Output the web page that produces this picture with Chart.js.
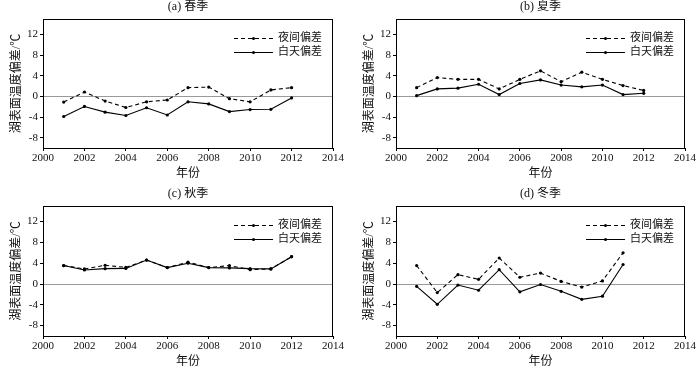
<!DOCTYPE html>
<html>
<head>
<meta charset="utf-8">
<script src="https://cdn.jsdelivr.net/npm/chart.js@4/dist/chart.umd.min.js"></script>
<style>
  html, body { margin: 0; padding: 0; background: #fff; }
  #wrap { position: relative; width: 700px; height: 372px; overflow: hidden; }
  #wrap canvas { position: absolute; }
</style>
</head>
<body>
<div id="wrap">
  <canvas id="c-spring" width="350" height="186" style="left:0;top:0"></canvas>
  <canvas id="c-summer" width="347" height="186" style="left:353px;top:0"></canvas>
  <canvas id="c-autumn" width="350" height="187" style="left:0;top:187px"></canvas>
  <canvas id="c-winter" width="347" height="187" style="left:353px;top:187px"></canvas>
</div>
<script>
/* ═══ data ═══ */
var YEARS        = [2001, 2002, 2003, 2004, 2005, 2006, 2007, 2008, 2009, 2010, 2011, 2012];
var YEARS_WINTER = [2001, 2002, 2003, 2004, 2005, 2006, 2007, 2008, 2009, 2010, 2011];

var springNight = [-1.1, 0.85, -0.9, -2.15, -1.05, -0.7, 1.7, 1.8, -0.45, -1.05, 1.25, 1.7];
var springDay   = [-3.9, -1.95, -3.05, -3.7, -2.2, -3.6, -1.05, -1.45, -2.95, -2.55, -2.5, -0.3];
var summerNight = [1.7, 3.65, 3.3, 3.3, 1.45, 3.3, 4.95, 2.85, 4.7, 3.3, 2.1, 1.15];
var summerDay   = [0.15, 1.45, 1.6, 2.35, 0.35, 2.5, 3.2, 2.2, 1.85, 2.2, 0.35, 0.6];
var autumnNight = [3.55, 2.9, 3.6, 3.2, 4.6, 3.15, 4.2, 3.15, 3.55, 2.75, 2.9, 5.25];
var autumnDay   = [3.55, 2.7, 2.95, 3.0, 4.6, 3.15, 4.0, 3.15, 3.1, 2.95, 2.9, 5.25];
var winterNight = [3.55, -1.65, 1.8, 0.9, 5.0, 1.3, 2.1, 0.5, -0.6, 0.6, 6.0];
var winterDay   = [-0.45, -3.9, -0.2, -1.2, 2.75, -1.5, -0.1, -1.4, -2.95, -2.35, 3.75];

var X_TICKS = [2000, 2002, 2004, 2006, 2008, 2010, 2012, 2014];
var Y_TICKS = [-8, -4, 0, 4, 8, 12];

var LABEL_NIGHT = '夜间偏差';
var LABEL_DAY   = '白天偏差';
var Y_TITLE = '湖表面温度偏差/℃';
var X_TITLE = '年份';

var FONT = "'Liberation Serif', 'Noto Sans CJK SC', serif";
var INK  = '#111';

/* ── panel title + frame + legend ── */
var framePlugin = {
  id: 'lakeFrame',
  afterDraw: function(chart) {
    var a = chart.chartArea, c = chart.ctx;
    c.save();
    c.strokeStyle = '#000';
    c.lineWidth = 1;
    c.strokeRect(Math.round(a.left) + 0.5, Math.round(a.top) + 0.5,
                 Math.round(a.right - a.left) - 1, Math.round(a.bottom - a.top));
    // title
    c.fillStyle = INK;
    c.font = '12px ' + FONT;
    c.textAlign = 'center';
    c.textBaseline = 'middle';
    c.fillText(chart.options.plugins.lakeFrame.title, (a.left + a.right) / 2, a.top - 12);
    // legend
    c.font = '11px ' + FONT;
    chart.data.datasets.forEach(function(ds, i) {
      var y = Math.round(a.top + 19 + i * 14) + 0.5;
      var x0 = a.right - 99, x1 = a.right - 60;
      c.strokeStyle = '#000';
      c.lineWidth = 1.1;
      c.setLineDash(ds.borderDash || []);
      c.beginPath(); c.moveTo(x0, y); c.lineTo(x1, y); c.stroke();
      c.setLineDash([]);
      c.fillStyle = '#000';
      c.beginPath(); c.arc((x0 + x1) / 2, y, 1.5, 0, Math.PI * 2); c.fill();
      c.fillStyle = INK;
      c.textAlign = 'left';
      c.fillText(ds.label, a.right - 55, y);
    });
    c.restore();
  }
};

function pts(xs, ys) {
  return xs.map(function(x, i) { return { x: x, y: ys[i] }; });
}

function makePanel(id, title, xs, night, day, padR) {
  var line = { borderColor: '#000', backgroundColor: '#000', borderWidth: 1.1,
               pointRadius: 1.6, pointBorderWidth: 0, tension: 0, fill: false };
  return new Chart(document.getElementById(id), {
    type: 'line',
    data: {
      datasets: [
        Object.assign({ label: LABEL_NIGHT, data: pts(xs, night), borderDash: [4, 3] }, line),
        Object.assign({ label: LABEL_DAY,   data: pts(xs, day) }, line)
      ]
    },
    plugins: [framePlugin],
    options: {
      responsive: false, animation: false, events: [],
      layout: { padding: { left: 2, top: 19, right: padR, bottom: 0 } },
      plugins: {
        legend: { display: false }, tooltip: { enabled: false },
        lakeFrame: { title: title }
      },
      scales: {
        x: {
          type: 'linear', min: 2000, max: 2014,
          afterBuildTicks: function(s) { s.ticks = X_TICKS.map(function(v) { return { value: v }; }); },
          afterFit: function(s) { s.height = 38; },
          grid: { color: 'rgba(0,0,0,0)', tickColor: '#000', tickLength: 3, drawOnChartArea: false },
          border: { color: '#000', width: 1 },
          ticks: { color: INK, font: { family: FONT, size: 11 }, padding: 1, maxRotation: 0,
                   callback: function(v) { return String(v); } },
          title: { display: true, text: X_TITLE, color: INK, font: { family: FONT, size: 12 },
                   padding: { top: 0, bottom: 5 } }
        },
        y: {
          type: 'linear', min: -10, max: 15,
          afterBuildTicks: function(s) { s.ticks = Y_TICKS.map(function(v) { return { value: v }; }); },
          afterFit: function(s) { s.width = 41; },
          grid: {
            color: function(ctx) { return ctx.tick && ctx.tick.value === 0 ? '#9a9a9a' : 'rgba(0,0,0,0)'; },
            tickColor: '#000', tickLength: 3, lineWidth: 1
          },
          border: { color: '#000', width: 1 },
          ticks: { color: INK, font: { family: FONT, size: 11 }, padding: 2 },
          title: { display: true, text: Y_TITLE, color: INK, font: { family: FONT, size: 12 },
                   padding: { top: 8, bottom: 0 } }
        }
      }
    }
  });
}

makePanel('c-spring', '(a) 春季', YEARS, springNight, springDay, 17);
makePanel('c-summer', '(b) 夏季', YEARS, summerNight, summerDay, 15);
makePanel('c-autumn', '(c) 秋季', YEARS, autumnNight, autumnDay, 17);
makePanel('c-winter', '(d) 冬季', YEARS_WINTER, winterNight, winterDay, 15);
</script>
</body>
</html>
